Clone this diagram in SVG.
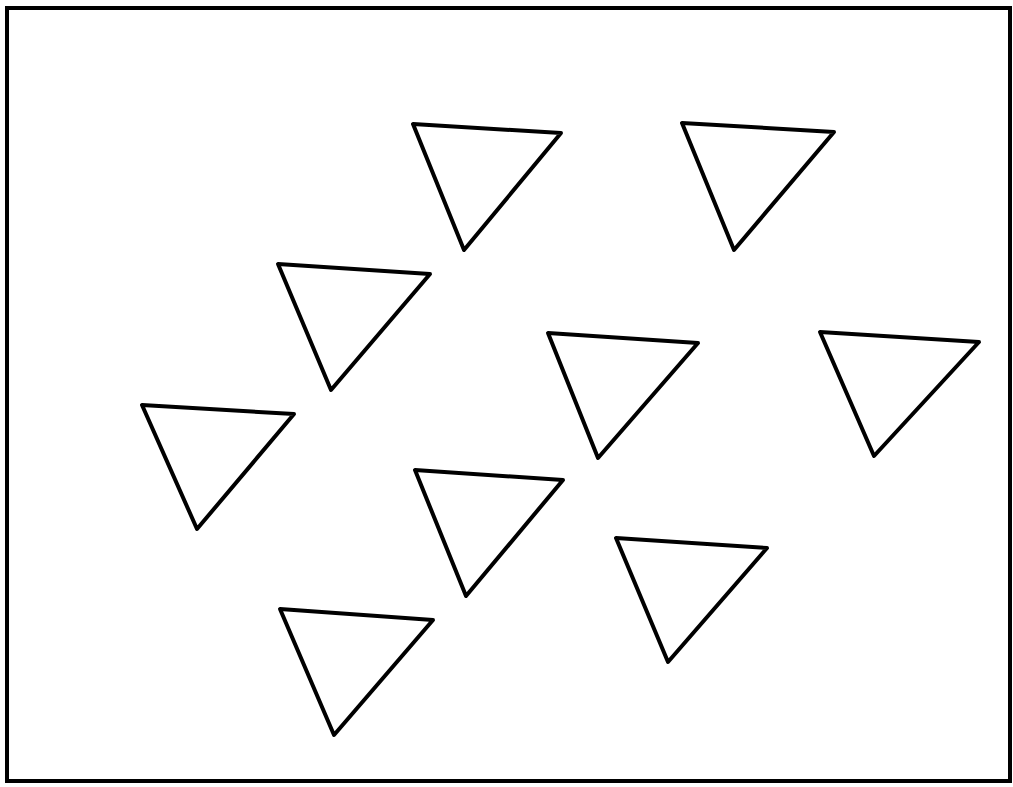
<svg xmlns="http://www.w3.org/2000/svg" width="1013" height="787" viewBox="0 0 1013 787">
<style>
.frame{fill:none;stroke:#000;stroke-width:4}
.tri{fill:none;stroke:#000;stroke-width:4;stroke-linejoin:round}
</style>
<rect width="1013" height="787" fill="#fff"/>
<rect class="frame" x="7" y="8" width="1003" height="773"/>
<g id="t1"><polygon class="tri" points="413,124 561,133 464,250"/></g>
<g id="t2"><polygon class="tri" points="682,123 834,132 734,250"/></g>
<g id="t3"><polygon class="tri" points="278,264 430,274 331,390"/></g>
<g id="t4"><polygon class="tri" points="548,333 698,343 598,458"/></g>
<g id="t5"><polygon class="tri" points="820,332 979,342 874,456"/></g>
<g id="t6"><polygon class="tri" points="142,405 294,414 197,529"/></g>
<g id="t7"><polygon class="tri" points="415,470 563,480 466,596"/></g>
<g id="t8"><polygon class="tri" points="616,538 767,548 668,662"/></g>
<g id="t9"><polygon class="tri" points="280,609 433,620 334,735"/></g>
</svg>
